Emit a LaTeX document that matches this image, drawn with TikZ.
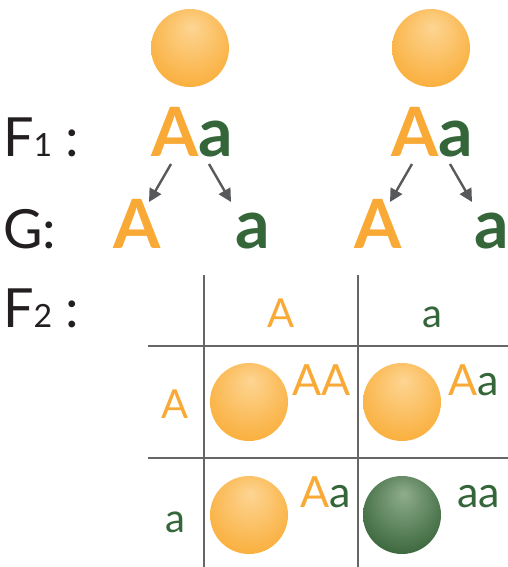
\documentclass[tikz,border=0pt]{standalone}
\usepackage{fontspec}
\setmainfont{Lato}
\usetikzlibrary{arrows.meta}
\definecolor{orng}{HTML}{F9A935}
\definecolor{grn}{HTML}{35663A}
\definecolor{orhi}{HTML}{FDD593}
\definecolor{orlo}{HTML}{F9A92F}
\definecolor{grhi}{HTML}{8FAD8C}
\definecolor{grlo}{HTML}{2E5C30}
\definecolor{ink}{HTML}{231F20}
\definecolor{gridc}{HTML}{666666}
\definecolor{arrc}{HTML}{58595B}
\pgfdeclareradialshading{orangeball}{\pgfpoint{1bp}{14bp}}{color(0bp)=(orhi); color(36bp)=(orlo); color(50bp)=(orlo)}
\pgfdeclareradialshading{greenball}{\pgfpoint{1bp}{14bp}}{color(0bp)=(grhi); color(36bp)=(grlo); color(50bp)=(grlo)}
\tikzset{
  txt/.style={anchor=base west, inner sep=0pt, outer sep=0pt},
  gen/.style={txt, font=\fontsize{54}{60}\selectfont, text=ink},
  big/.style={txt, font=\fontsize{68}{74}\bfseries\selectfont},
  cell/.style={txt, font=\fontsize{40}{46}\selectfont},
  geno/.style={txt, font=\fontsize{43}{48}\selectfont},
  oball/.style={circle, minimum size=78pt, inner sep=0pt, draw=none, shading=orangeball},
  gball/.style={circle, minimum size=78pt, inner sep=0pt, draw=none, shading=greenball},
  gline/.style={draw=gridc, line width=2pt},
  garrow/.style={draw=arrc, line width=2.4pt, -{Triangle[length=13pt,width=13pt]}},
}
\newcommand{\sm}[1]{{\fontsize{32}{36}\selectfont #1}}
\begin{document}
\begin{tikzpicture}[x=1pt,y=-1pt]
\useasboundingbox (0,0) rectangle (508,567);
% top balls
\node[oball] (p1) at (190,48) {};
\node[oball] (p2) at (431,48) {};
% labels
\node[gen] (lf1) at (3,156) {F\sm{1} :};
\node[gen] (lg) at (3,248) {G:};
\node[gen] (lf2) at (3,327) {F\sm{2} :};
% F1 genotypes
\node[big] (g1) at (151,156) {\textcolor{orng}{A}\textcolor{grn}{a}};
\node[big] (g2) at (391,156) {\textcolor{orng}{A}\textcolor{grn}{a}};
% gametes
\node[big, text=orng] (ga1) at (113,248) {A};
\node[big, text=grn] (ga2) at (235,248) {a};
\node[big, text=orng] (ga3) at (354,248) {A};
\node[big, text=grn] (ga4) at (474,248) {a};
% arrows
\coordinate (s1) at (171,164); \coordinate (e1) at (149,202);
\coordinate (s2) at (209,164); \coordinate (e2) at (231,202);
\coordinate (s3) at (412,164); \coordinate (e3) at (390,202);
\coordinate (s4) at (450,164); \coordinate (e4) at (472,202);
\draw[garrow] (s1) -- (e1);
\draw[garrow] (s2) -- (e2);
\draw[garrow] (s3) -- (e3);
\draw[garrow] (s4) -- (e4);
% grid
\coordinate (v1t) at (204,275); \coordinate (v1b) at (204,567);
\coordinate (v2t) at (358,275); \coordinate (v2b) at (358,567);
\coordinate (h1l) at (148,346); \coordinate (h1r) at (508,346);
\coordinate (h2l) at (148,458); \coordinate (h2r) at (508,458);
\draw[gline] (v1t) -- (v1b);
\draw[gline] (v2t) -- (v2b);
\draw[gline] (h1l) -- (h1r);
\draw[gline] (h2l) -- (h2r);
% headers
\node[cell, text=orng] (hA) at (267,327) {A};
\node[cell, text=grn] (ha) at (422,327) {a};
\node[cell, text=orng] (rA) at (161,418) {A};
\node[cell, text=grn] (ra) at (165,532) {a};
% cells
\node[oball] (c11) at (249,402) {};
\node[oball] (c12) at (402,402) {};
\node[oball] (c21) at (249,515) {};
\node[gball] (c22) at (402,515) {};
\node[geno, text=orng] (t11) at (292,395) {AA};
\node[geno] (t12) at (448,395) {\textcolor{orng}{A}\textcolor{grn}{a}};
\node[geno] (t21) at (300,507) {\textcolor{orng}{A}\textcolor{grn}{a}};
\node[geno, text=grn] (t22) at (457,507) {aa};
\end{tikzpicture}
\end{document}
